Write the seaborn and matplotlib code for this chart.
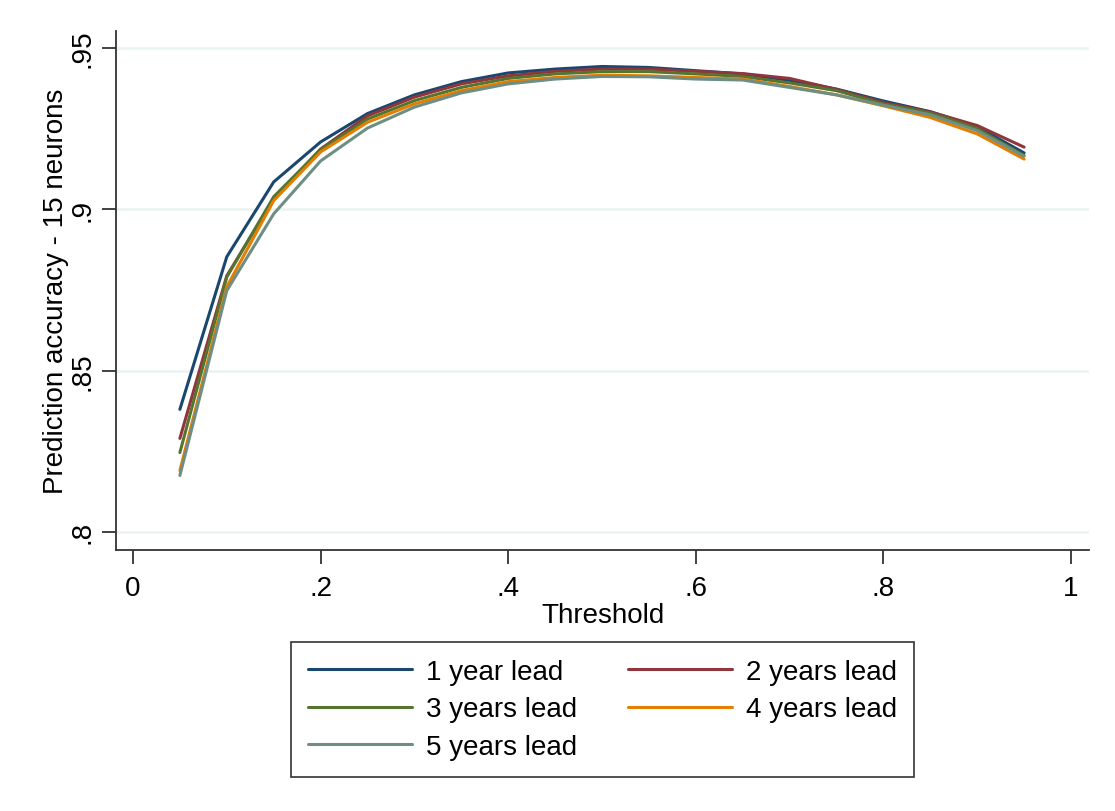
import numpy as np
import pandas as pd
import matplotlib
matplotlib.use("Agg")
import matplotlib.pyplot as plt
import seaborn as sns
from matplotlib.lines import Line2D

threshold = [0.05, 0.10, 0.15, 0.20, 0.25, 0.30, 0.35, 0.40, 0.45, 0.50,
             0.55, 0.60, 0.65, 0.70, 0.75, 0.80, 0.85, 0.90, 0.95]

lead1 = [0.838, 0.8853, 0.9085, 0.9209, 0.9297, 0.9355, 0.9396, 0.9423, 0.9435, 0.9443,
         0.9440, 0.9430, 0.9420, 0.9400, 0.9373, 0.9336, 0.9303, 0.9256, 0.9175]
lead2 = [0.829, 0.8794, 0.9033, 0.9187, 0.9290, 0.9348, 0.9389, 0.9414, 0.9428, 0.9435,
         0.9435, 0.9428, 0.9421, 0.9406, 0.9372, 0.9331, 0.9302, 0.9260, 0.9193]
lead3 = [0.8246, 0.8790, 0.9039, 0.9185, 0.9280, 0.9337, 0.9378, 0.9406, 0.9420, 0.9427,
         0.9427, 0.9420, 0.9412, 0.9392, 0.9368, 0.9327, 0.9299, 0.9251, 0.9167]
lead4 = [0.819, 0.8760, 0.9027, 0.9178, 0.9270, 0.9327, 0.9368, 0.9396, 0.9409, 0.9416,
         0.9414, 0.9409, 0.9404, 0.9381, 0.9355, 0.9321, 0.9285, 0.9234, 0.9156]
lead5 = [0.8175, 0.8748, 0.8986, 0.9150, 0.9252, 0.9317, 0.9361, 0.9389, 0.9404, 0.9412,
         0.9411, 0.9404, 0.9401, 0.9378, 0.9355, 0.9323, 0.9293, 0.9244, 0.9165]

series_names = ["1 year lead", "2 years lead", "3 years lead", "4 years lead", "5 years lead"]
colors = ["#1a476f", "#90353b", "#55752f", "#e37e00", "#6e8e84"]

x_ticks = [0, 0.2, 0.4, 0.6, 0.8, 1.0]
x_tick_labels = ["0", ".2", ".4", ".6", ".8", "1"]
y_ticks = [0.80, 0.85, 0.90, 0.95]
y_tick_labels = [".8", ".85", ".9", ".95"]

rows = []
for name, vals in zip(series_names, [lead1, lead2, lead3, lead4, lead5]):
    for t, v in zip(threshold, vals):
        rows.append({"Threshold": t, "Accuracy": v, "Series": name})
df = pd.DataFrame(rows)

sns.set_style("white")
plt.rcParams["font.family"] = ["Liberation Sans", "DejaVu Sans"]
plt.rcParams["text.color"] = "black"
plt.rcParams["axes.labelcolor"] = "black"
plt.rcParams["xtick.color"] = "black"
plt.rcParams["ytick.color"] = "black"

FS = 20

fig = plt.figure(figsize=(11.15, 8.12), dpi=100)
ax = fig.add_axes([116 / 1115, 1 - 551 / 812, (1089 - 116) / 1115, (551 - 32) / 812])

sns.lineplot(data=df, x="Threshold", y="Accuracy", hue="Series",
             hue_order=series_names, palette=colors, linewidth=2.2,
             ax=ax, legend=False, zorder=3)

ax.set_xlim(-0.0181, 1.0192)
ax.set_ylim(0.7944, 0.9553)
ax.set_xticks(x_ticks)
ax.set_xticklabels(x_tick_labels, fontsize=FS)
ax.set_yticks(y_ticks)
ax.set_yticklabels(y_tick_labels, fontsize=FS, rotation=90, va="center")
ax.yaxis.grid(True, color="#eaf2f3", linewidth=1.8, zorder=0)
ax.xaxis.grid(False)
ax.tick_params(axis="both", which="major", direction="out", length=10, width=1.3,
               color="#333333", labelcolor="black", left=True, bottom=True)
ax.tick_params(axis="x", pad=8)
ax.tick_params(axis="y", pad=5)
for side in ["top", "right"]:
    ax.spines[side].set_visible(False)
for side in ["left", "bottom"]:
    ax.spines[side].set_color("#333333")
    ax.spines[side].set_linewidth(1.3)

ax.set_xlabel("Threshold", fontsize=FS, labelpad=1)
ax.set_ylabel("Prediction accuracy - 15 neurons", fontsize=FS, labelpad=0)

handles = [Line2D([0], [0], color=c, linewidth=2.2) for c in colors]
order = [0, 2, 4, 1, 3]
leg = fig.legend([handles[i] for i in order], [series_names[i] for i in order],
                 loc="upper left", ncol=2,
                 bbox_to_anchor=(291 / 1115, 1 - 772 / 812, (914 - 291) / 1115, (772 - 643) / 812),
                 mode="expand", fontsize=FS, frameon=True, fancybox=False,
                 edgecolor="black", handlelength=3.75, handletextpad=0.5,
                 borderpad=0.6, labelspacing=0.42, columnspacing=1.5, borderaxespad=0)
leg.get_frame().set_linewidth(1.2)

fig.savefig("out.png", dpi=100, facecolor="white")
